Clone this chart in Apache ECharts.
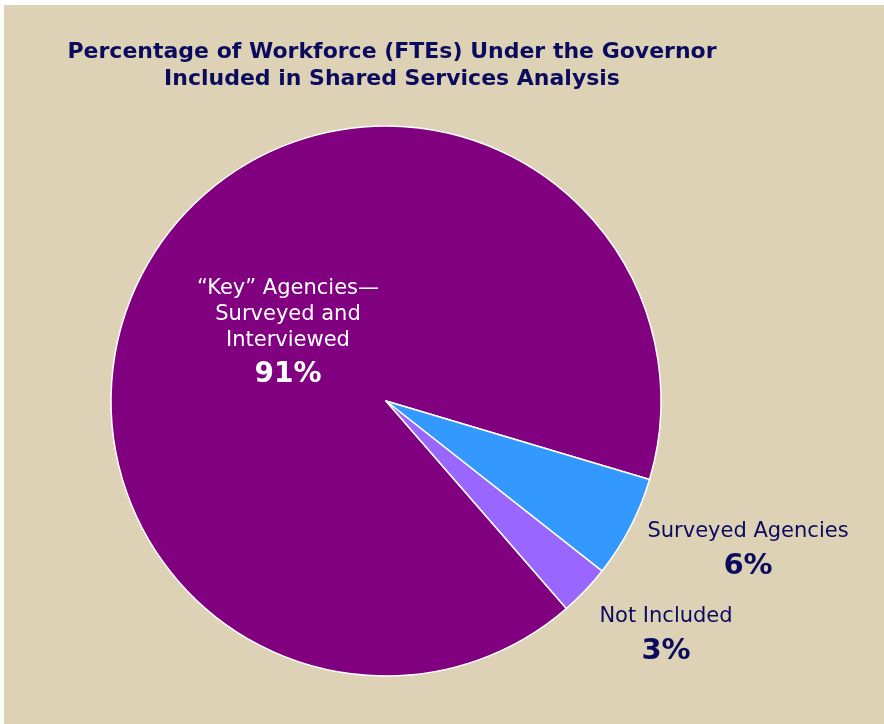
<!DOCTYPE html>
<html>
<head>
<meta charset="utf-8">
<script src="https://cdn.jsdelivr.net/npm/echarts@6/dist/echarts.min.js"></script>
<style>
html,body{margin:0;padding:0;background:#ffffff;}
#chart{width:884px;height:724px;}
</style>
</head>
<body>
<div id="chart"></div>
<script>
const titleLines = ['Percentage of Workforce (FTEs) Under the Governor', 'Included in Shared Services Analysis'];
const categories = ['\u201CKey\u201D Agencies\u2014\nSurveyed and\nInterviewed', 'Surveyed Agencies', 'Not Included'];
const values = [91, 6, 3];
const colors = ['#800080', '#3399FF', '#9966FF'];

const chart = echarts.init(document.getElementById('chart'));
const labelPos = [[288, 336], [748, 551], [666, 636]];

const data = categories.map((c, i) => ({
  name: c,
  value: values[i],
  itemStyle: { color: colors[i] },
  label: i === 0 ? {
    position: 'inside',
    formatter: '{n|{b}}\n{p|{c}%}',
    rich: {
      n: { color: '#ffffff', fontFamily: 'DejaVu Sans', fontSize: 21, lineHeight: 26, align: 'center' },
      p: { color: '#ffffff', fontFamily: 'DejaVu Sans', fontWeight: 'bold', fontSize: 28, lineHeight: 42, align: 'center' }
    }
  } : {
    position: 'inside',
    overflow: 'none',
    formatter: '{n|{b}}\n{p|{c}%}',
    rich: {
      n: { color: '#0B0B5E', fontFamily: 'DejaVu Sans', fontSize: 21, lineHeight: 30, align: 'center' },
      p: { color: '#0B0B5E', fontFamily: 'DejaVu Sans', fontWeight: 'bold', fontSize: 29, lineHeight: 38, align: 'center' }
    }
  },
  labelLine: { show: false }
}));

chart.setOption({
  backgroundColor: '#ffffff',
  animation: false,
  graphic: [
    { type: 'rect', z: -10, shape: { x: 4, y: 5, width: 880, height: 719 }, style: { fill: '#DDD2B6' } }
  ],
  title: {
    text: titleLines.join('\n'),
    left: 387,
    top: 34,
    textAlign: 'center',
    textStyle: { color: '#0B0B5E', fontFamily: 'DejaVu Sans', fontWeight: 'bold', fontSize: 22, lineHeight: 27 }
  },
  series: [{
    type: 'pie',
    center: [386, 401],
    radius: [0, 275],
    startAngle: 311,
    clockwise: true,
    data: data,
    itemStyle: { borderColor: '#ffffff', borderWidth: 1.5 },
    emphasis: { disabled: true },
    labelLayout: function (p) {
      const pos = labelPos[p.dataIndex];
      return { x: pos[0], y: pos[1], align: 'center', verticalAlign: 'middle' };
    }
  }]
});
</script>
</body>
</html>
